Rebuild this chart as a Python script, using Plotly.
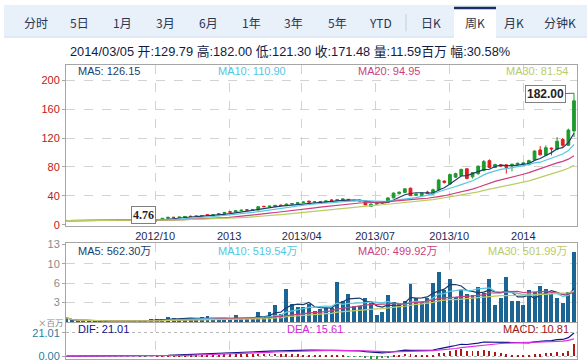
import pandas as pd
import plotly.graph_objects as go

# ---------------- data (weekly K-line) ----------------
last_week = "2014-03-05"

open_p = [5.9] * 13 + [
    5.9, 5.7, 5.5, 6.2, 7.3, 9.0, 10.3, 10.2, 10.6, 11.7,
    11.4, 12.2, 14.0, 13.0, 13.8, 15.4, 18.0, 17.5, 19.5, 20.6,
    20.4, 20.5, 25.5, 25.1, 25.2, 27.2, 26.6, 28.6, 29.4, 30.8,
    32.8, 31.4, 31.8, 31.2, 34.2, 33.4, 34.0, 35.2, 33.8, 32.4,
    33.0, 25.5, 28.5, 30.0, 31.8, 37.2, 43.0, 44.8, 50.6, 40.8,
    40.3, 45.2, 42.6, 48.4, 60.5, 56.4, 65.9, 68.1, 77.5, 66.3,
    70.8, 75.3, 88.7, 79.3, 82.9, 82.9, 82.0, 83.3, 83.8, 83.3,
    90.0, 103.5, 96.3, 106.0, 104.4, 118.0, 110.0, 129.79]

high_p = [5.9] * 13 + [
    6.0, 5.8, 6.5, 7.5, 9.2, 10.8, 10.8, 11.0, 11.8, 12.8,
    12.5, 13.2, 14.5, 14.2, 15.8, 17.5, 19.2, 19.8, 20.6, 21.5,
    21.2, 25.5, 26.5, 26.3, 27.4, 28.0, 29.5, 30.0, 31.2, 32.2,
    33.0, 32.5, 32.8, 33.8, 35.5, 35.0, 37.0, 35.8, 34.8, 34.5,
    34.0, 29.5, 31.0, 32.2, 37.8, 44.5, 46.0, 50.5, 51.5, 43.5,
    45.0, 47.0, 50.0, 63.5, 61.5, 70.5, 72.0, 77.5, 78.0, 73.0,
    82.0, 89.6, 90.5, 84.5, 84.0, 83.5, 84.5, 86.0, 86.5, 90.0,
    103.0, 108.9, 109.8, 107.0, 121.4, 120.0, 133.0, 182.0]

low_p = [5.9] * 13 + [
    5.6, 5.3, 5.2, 4.76, 7.2, 8.8, 9.6, 9.8, 10.4, 11.0,
    11.2, 12.0, 12.6, 12.8, 13.6, 15.2, 16.8, 17.2, 19.0, 19.8,
    19.6, 20.0, 24.2, 24.5, 24.8, 25.8, 26.2, 28.0, 28.8, 30.0,
    30.8, 30.6, 31.0, 30.8, 33.2, 32.6, 33.5, 33.2, 32.8, 31.8,
    27.0, 24.5, 28.0, 29.6, 31.5, 36.8, 42.0, 44.0, 40.0, 40.0,
    39.5, 43.0, 42.0, 47.0, 57.0, 55.0, 65.0, 67.0, 63.0, 64.0,
    69.0, 74.0, 78.0, 78.5, 80.0, 70.8, 73.9, 82.5, 83.0, 82.0,
    89.0, 96.0, 95.0, 96.0, 103.0, 108.0, 109.0, 121.3]

close_p = [5.9] * 13 + [
    5.7, 5.5, 6.2, 7.3, 9.0, 10.3, 10.2, 10.6, 11.5, 11.4,
    12.2, 12.8, 13.0, 13.8, 15.4, 17.1, 17.5, 19.5, 20.2, 20.4,
    20.9, 25.0, 25.1, 25.8, 26.9, 26.6, 28.6, 29.4, 30.5, 31.4,
    31.4, 31.8, 32.0, 33.0, 33.8, 34.6, 35.6, 33.8, 33.4, 33.8,
    27.5, 28.5, 30.2, 31.8, 37.2, 43.9, 45.2, 49.7, 40.3, 42.5,
    43.9, 43.5, 48.4, 61.8, 58.7, 69.4, 70.8, 76.6, 64.1, 72.1,
    81.1, 87.4, 79.3, 83.3, 81.5, 79.3, 83.8, 85.1, 85.6, 88.7,
    102.0, 96.8, 106.6, 105.0, 115.6, 110.0, 131.0, 171.48]

volume_m = [0.7] + [0.15] * 12 + [
    0.3, 0.35, 0.45, 0.45, 0.5, 0.76, 0.7, 0.54, 0.7, 0.54,
    0.54, 0.81, 0.98, 0.54, 0.45, 0.5, 0.54, 1.08, 0.54, 0.54,
    0.7, 1.63, 0.87, 1.63, 2.87, 1.25, 5.42, 2.98, 2.44, 2.49,
    3.03, 1.79, 2.17, 2.33, 2.33, 6.66, 3.4, 4.66, 2.7, 2.6,
    3.95, 3.14, 1.14, 1.6, 4.5, 3.25, 3.14, 3.4, 6.3, 3.95,
    3.4, 3.95, 6.55, 8.3, 5.3, 7.1, 4.1, 5.3, 4.6, 4.5,
    5.85, 4.77, 7.1, 2.87, 3.95, 7.48, 3.4, 3.4, 2.87, 5.3,
    4.9, 5.96, 5.47, 4.6, 3.9, 3.1, 5.0, 11.59]

tick_dates = ["2012-10-01", "2013-01-01", "2013-04-01", "2013-07-01", "2013-10-01", "2014-01-01"]
tick_text = ["2012/10", "2013", "2013/04", "2013/07", "2013/10", "2014"]
price_ticks = [0, 40, 80, 120, 160, 200]
vol_tick_vals = [3.25, 6.5, 9.75, 13]
vol_tick_text = ["3", "6", "10", "13"]
macd_tick_vals = [0, 21.01]
macd_tick_text = ["0.00", "21.01"]

tabs = ["分时", "5日", "1月", "3月", "6月", "1年", "3年", "5年", "YTD", "日K", "周K", "月K", "分钟K"]
selected_tab = "周K"
info_text = "2014/03/05 开:129.79 高:182.00 低:121.30 收:171.48 量:11.59百万 幅:30.58%"
price_ma_labels = ["MA5: 126.15", "MA10: 110.90", "MA20: 94.95", "MA30: 81.54"]
vol_ma_labels = ["MA5: 562.30万", "MA10: 519.54万", "MA20: 499.92万", "MA30: 501.99万"]
macd_labels = ["DIF: 21.01", "DEA: 15.61", "MACD: 10.81"]
high_label = "182.00"
low_label = "4.76"

# ---------------- derived indicators ----------------
dates = pd.date_range(end=last_week, periods=len(close_p), freq="7D")
close_s = pd.Series(close_p, index=dates)
vol_s = pd.Series(volume_m, index=dates)
ma_windows = [5, 10, 20, 30]
ma_colors = ["#1d3d6b", "#55c6e2", "#cc3f7e", "#bccb62"]
price_ma = [close_s.rolling(w, min_periods=1).mean() for w in ma_windows]
vol_ma = [vol_s.rolling(w, min_periods=1).mean() for w in ma_windows]
ema12 = close_s.ewm(span=12, adjust=False).mean()
ema26 = close_s.ewm(span=26, adjust=False).mean()
dif = ema12 - ema26
dea = dif.ewm(span=9, adjust=False).mean()
macd = 2 * (dif - dea)

# ---------------- figure ----------------
W, H = 587, 364
def PX(p): return p / W
def PY(p): return 1 - p / H

GREEN = "#1f9a2f"
RED = "#e02020"
FONT = "Liberation Sans, Arial, Noto Sans CJK SC, sans-serif"
CJK = "Noto Sans CJK SC, Liberation Sans, sans-serif"

fig = go.Figure()

fig.add_trace(go.Candlestick(
    x=dates, open=open_p, high=high_p, low=low_p, close=close_p,
    increasing=dict(line=dict(color=GREEN, width=1), fillcolor=GREEN),
    decreasing=dict(line=dict(color=RED, width=1), fillcolor=RED),
    whiskerwidth=0, xaxis="x", yaxis="y", hoverinfo="skip", showlegend=False))
for s, c in zip(price_ma, ma_colors):
    fig.add_trace(go.Scatter(x=dates, y=s, mode="lines", line=dict(color=c, width=1.2),
                             xaxis="x", yaxis="y", hoverinfo="skip", showlegend=False))

day_ms = 86400000
fig.add_trace(go.Bar(x=dates, y=volume_m, marker=dict(color="#1b6594", line=dict(width=0)),
                     width=4.9 * day_ms, xaxis="x2", yaxis="y2", hoverinfo="skip", showlegend=False))
for s, c in zip(vol_ma, ma_colors):
    fig.add_trace(go.Scatter(x=dates, y=s, mode="lines", line=dict(color=c, width=1.2),
                             xaxis="x2", yaxis="y2", hoverinfo="skip", showlegend=False))

macd_colors = ["#b01818" if v >= 0 else "#2a9a3a" for v in macd]
fig.add_trace(go.Bar(x=dates, y=macd, marker=dict(color=macd_colors, line=dict(width=0)),
                     width=1.2 * day_ms, xaxis="x3", yaxis="y3", hoverinfo="skip", showlegend=False))
fig.add_trace(go.Scatter(x=dates, y=dif, mode="lines", line=dict(color="#10108a", width=1.2),
                         xaxis="x3", yaxis="y3", hoverinfo="skip", showlegend=False))
fig.add_trace(go.Scatter(x=dates, y=dea, mode="lines", line=dict(color="#e030e0", width=1.2),
                         xaxis="x3", yaxis="y3", hoverinfo="skip", showlegend=False))

t0 = (dates[0] - pd.Timedelta(hours=15)).strftime("%Y-%m-%d %H:%M:%S")
t1 = (dates[-1] + pd.Timedelta(hours=89)).strftime("%Y-%m-%d %H:%M:%S")

GRID = "#d2d2d2"
LINE = "#a6a6a6"
xcommon = dict(type="date", tickvals=tick_dates, ticktext=tick_text, showgrid=True,
               gridcolor=GRID, griddash="dash", gridwidth=1, showline=True, mirror=True,
               linecolor=LINE, linewidth=1, ticks="", zeroline=False,
               domain=[PX(66), PX(577)], fixedrange=True)

fig.update_layout(
    width=W, height=H, margin=dict(l=0, r=0, t=0, b=0),
    paper_bgcolor="white", plot_bgcolor="white",
    font=dict(family=FONT, size=11, color="#333"),
    showlegend=False, bargap=0,
    xaxis=dict(xcommon, anchor="y", range=[t0, t1], rangeslider=dict(visible=False),
               showticklabels=True, tickfont=dict(size=11, color="#1c2a58")),
    xaxis2=dict(xcommon, anchor="y2", matches="x", showticklabels=False),
    xaxis3=dict(xcommon, anchor="y3", matches="x", showticklabels=False),
    yaxis=dict(domain=[PY(227), PY(62)], range=[-1.35, 220.6], tickvals=price_ticks,
               tickfont=dict(size=11, color="#c01818"), ticks="outside", ticklen=3,
               tickcolor=LINE, showgrid=True, gridcolor=GRID, griddash="dash",
               showline=True, mirror=True, linecolor=LINE, zeroline=False,
               ticklabelstandoff=0, fixedrange=True),
    yaxis2=dict(domain=[PY(326), PY(245)], range=[0, 13.16], tickvals=vol_tick_vals,
                ticktext=vol_tick_text, tickfont=dict(size=11, color="#8a8a8a"),
                ticks="outside", ticklen=3, tickcolor=LINE, showgrid=True, gridcolor=GRID,
                griddash="dash", showline=True, mirror=True, linecolor=LINE, zeroline=False,
                ticklabelstandoff=0, fixedrange=True),
    yaxis3=dict(domain=[0, PY(327)], range=[-2.63, 29.77], tickvals=macd_tick_vals,
                ticktext=macd_tick_text, tickfont=dict(size=11, color="#1f7fa0"),
                ticks="outside", ticklen=3, tickcolor=LINE, showgrid=True, gridcolor="#b8b8b8",
                griddash="dot", showline=True, mirror=True, linecolor=LINE, zeroline=False,
                ticklabelstandoff=0, fixedrange=True),
)

shapes = []
annotations = []

# tab bar
shapes.append(dict(type="rect", xref="paper", yref="paper", x0=PX(4), x1=PX(587),
                   y0=PY(33), y1=PY(0), fillcolor="#e8f0fa", line=dict(width=0), layer="below"))
shapes.append(dict(type="line", xref="paper", yref="paper", x0=PX(4), x1=PX(587),
                   y0=PY(33), y1=PY(33), line=dict(color="#cddbee", width=1)))
shapes.append(dict(type="rect", xref="paper", yref="paper", x0=PX(454), x1=PX(496),
                   y0=PY(34), y1=PY(2), fillcolor="white", line=dict(width=0)))
shapes.append(dict(type="line", xref="paper", yref="paper", x0=PX(454), x1=PX(496),
                   y0=PY(3), y1=PY(3), line=dict(color="#1b2f66", width=2.5)))
shapes.append(dict(type="line", xref="paper", yref="paper", x0=PX(406), x1=PX(406),
                   y0=PY(9), y1=PY(27), line=dict(color="#c2ccdb", width=1)))
tab_centers = [36, 79, 122, 165, 208, 251, 294, 337, 381, 431, 475, 514, 560]
for t, cx in zip(tabs, tab_centers):
    annotations.append(dict(text=t, x=PX(cx), y=PY(18), xref="paper", yref="paper",
                            showarrow=False, xanchor="center", yanchor="middle",
                            font=dict(family=CJK, size=12, color="#2a3550")))

# info line
annotations.append(dict(text=info_text, x=PX(68), y=PY(48), xref="paper", yref="paper",
                        showarrow=False, xanchor="left", yanchor="middle",
                        font=dict(family=FONT, size=12.8, color="#0f1c45")))

# MA labels
for lbl, c, lx in zip(price_ma_labels, ma_colors, [76, 216, 356, 504]):
    annotations.append(dict(text=lbl, x=PX(lx), y=PY(68), xref="paper", yref="paper",
                            showarrow=False, xanchor="left", yanchor="middle",
                            font=dict(size=11, color=c)))
for lbl, c, lx in zip(vol_ma_labels, ma_colors, [76, 216, 356, 486]):
    annotations.append(dict(text=lbl, x=PX(lx), y=PY(253), xref="paper", yref="paper",
                            showarrow=False, xanchor="left", yanchor="middle",
                            font=dict(size=11, color=c)))
for lbl, c, lx in zip(macd_labels, ["#10108a", "#d824d8", "#a01414"], [76, 285, 501]):
    annotations.append(dict(text=lbl, x=PX(lx), y=PY(333), xref="paper", yref="paper",
                            showarrow=False, xanchor="left", yanchor="middle",
                            font=dict(size=11, color=c)))
annotations.append(dict(text="×百万", x=PX(65), y=PY(325.5), xref="paper", yref="paper",
                        showarrow=False, xanchor="right", yanchor="middle", borderpad=0,
                        font=dict(family=CJK, size=8.5, color="#8a8a8a")))

# high / low markers
hi_i = high_p.index(max(high_p))
lo_i = low_p.index(min(low_p))
annotations.append(dict(text="<b>%s</b>" % high_label, x=dates[hi_i], y=high_p[hi_i], xref="x", yref="y",
                        showarrow=True, arrowhead=0, arrowwidth=1, arrowcolor="#666",
                        ax=-29, ay=1, bgcolor="white", bordercolor="#808080", borderwidth=1,
                        borderpad=1, font=dict(size=12, color="#222")))
annotations.append(dict(text="<b>%s</b>" % low_label, x=dates[lo_i], y=low_p[lo_i], xref="x", yref="y",
                        showarrow=True, arrowhead=0, arrowwidth=1, arrowcolor="#666",
                        ax=-13, ay=-6, bgcolor="white", bordercolor="#808080", borderwidth=1,
                        borderpad=1, font=dict(family="Liberation Serif, serif", size=12, color="#222")))

fig.update_layout(shapes=shapes, annotations=annotations)
fig.write_html("out.html", config={"displayModeBar": False},
               post_script="document.body.style.margin='0';document.body.style.overflow='hidden';")
